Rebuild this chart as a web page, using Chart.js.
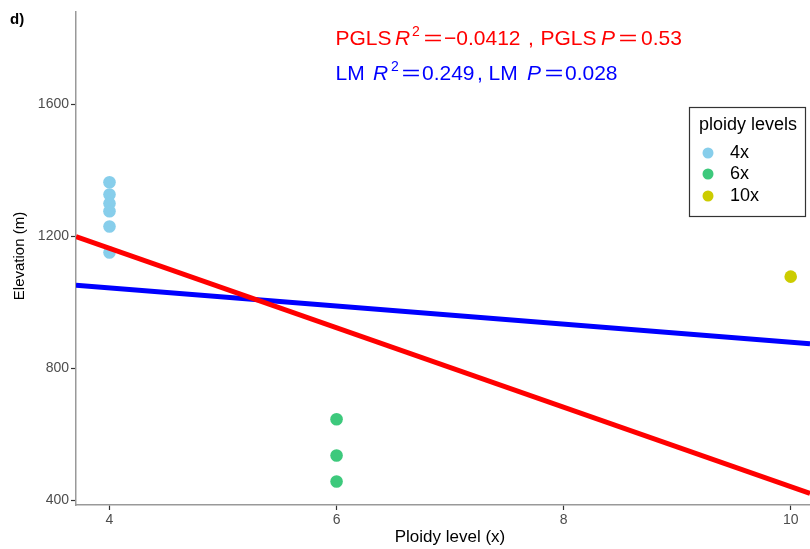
<!DOCTYPE html>
<html>
<head>
<meta charset="utf-8">
<script src="https://cdn.jsdelivr.net/npm/chart.js@4"></script>
<style>
  html, body { margin: 0; padding: 0; background: #fff; }
  canvas { display: block; }
</style>
</head>
<body>
<canvas id="chartElev" width="810" height="549"></canvas>
<script>
// ploidy groups and elevation (m)
const groups = ['4x', '6x', '10x']
const groupColors = ['#87CEEB', '#3DC97C', '#CCCC00']
const ploidy4 = [4, 4, 4, 4, 4, 4]
const elev4 = [1363, 1326, 1299, 1275, 1229, 1150]
const ploidy6 = [6, 6, 6]
const elev6 = [645, 535, 456]
const ploidy10 = [10]
const elev10 = [1077]

// fitted lines (ends at the axis limits)
const fitX = [3.705, 10.17]
const pglsY = [1198, 420]
const lmY = [1051, 874]

const xTicks = [4, 6, 8, 10]
const yTicks = [400, 800, 1200, 1600]

// text pieces: [text, style, x]  (i italic, s superscript, e wide equals)
const pglsText = [['PGLS', '', 335.5], ['R', 'i', 395], ['2', 's', 412], ['=', 'e', 423.5], ['\u22120.0412', '', 444],
    [',', '', 528], ['PGLS', '', 540.5], ['P', 'i', 601], ['=', 'e', 618.5], ['0.53', '', 641]]
const lmText = [['LM', '', 335.5], ['R', 'i', 373], ['2', 's', 391], ['=', 'e', 401.5], ['0.249', '', 422],
    [',', '', 477], ['LM', '', 488.5], ['P', 'i', 527], ['=', 'e', 544.5], ['0.028', '', 565]]

const FONT = '"Liberation Sans", Arial, sans-serif'
const tickGrey = '#4d4d4d'

function pts(xs, ys) {
    return xs.map((x, i) => ({x: x, y: ys[i]}))
}

function drawRich(ctx, parts, y, size, color) {
    ctx.fillStyle = color
    ctx.textBaseline = 'alphabetic'
    ctx.textAlign = 'left'
    for (const [t, st, x] of parts) {
        if (st === 's') {
            ctx.font = Math.round(size * 0.68) + 'px ' + FONT
            ctx.fillText(t, x, y - size * 0.45)
        } else if (st === 'e') {
            ctx.save()
            ctx.translate(x, y)
            ctx.scale(1.55, 1)
            ctx.font = size + 'px ' + FONT
            ctx.fillText(t, 0, 0)
            ctx.restore()
        } else {
            ctx.font = (st === 'i' ? 'italic ' : '') + size + 'px ' + FONT
            ctx.fillText(t, x, y)
        }
    }
}

const extras = {
    id: 'extras',
    afterDraw(chart) {
        const ctx = chart.ctx
        ctx.save()
        // panel letter
        ctx.fillStyle = '#000'
        ctx.font = 'bold 15px ' + FONT
        ctx.textBaseline = 'middle'
        ctx.fillText('d)', 10, 20)

        // stats text
        drawRich(ctx, pglsText, 45, 21, '#FF0000')
        drawRich(ctx, lmText, 80, 21, '#0000FF')

        // axis titles
        ctx.fillStyle = '#000'
        ctx.textAlign = 'center'
        ctx.textBaseline = 'middle'
        ctx.font = '17px ' + FONT
        ctx.fillText('Ploidy level (x)', 450, 537)
        ctx.save()
        ctx.translate(20, 256)
        ctx.rotate(-Math.PI / 2)
        ctx.font = '15px ' + FONT
        ctx.fillText('Elevation (m)', 0, 0)
        ctx.restore()

        // legend box
        ctx.fillStyle = '#fff'
        ctx.fillRect(689, 107, 117, 110)
        ctx.strokeStyle = '#333'
        ctx.lineWidth = 1.2
        ctx.strokeRect(689.5, 107.5, 116, 109)
        ctx.fillStyle = '#000'
        ctx.textAlign = 'left'
        ctx.font = '18px ' + FONT
        ctx.fillText('ploidy levels', 699, 125)
        const rowY = [153, 174, 196]
        groups.forEach((g, i) => {
            ctx.fillStyle = groupColors[i]
            ctx.beginPath()
            ctx.arc(708, rowY[i], 5.5, 0, Math.PI * 2)
            ctx.fill()
            ctx.fillStyle = '#000'
            ctx.font = '18px ' + FONT
            ctx.fillText(g, 730, rowY[i])
        })
        ctx.restore()
    }
}

const pointStyle = (c) => ({
    backgroundColor: c, borderColor: c, pointRadius: 6.3, pointBorderWidth: 0, showLine: false, order: 2
})

new Chart(document.getElementById('chartElev'), {
    type: 'scatter',
    data: {
        datasets: [
            Object.assign({label: groups[0], data: pts(ploidy4, elev4)}, pointStyle(groupColors[0])),
            Object.assign({label: groups[1], data: pts(ploidy6, elev6)}, pointStyle(groupColors[1])),
            Object.assign({label: groups[2], data: pts(ploidy10, elev10)}, pointStyle(groupColors[2])),
            {label: 'LM', data: pts(fitX, lmY), showLine: true, borderColor: '#0000FF', borderWidth: 5, pointRadius: 0, order: 1},
            {label: 'PGLS', data: pts(fitX, pglsY), showLine: true, borderColor: '#FF0000', borderWidth: 5, pointRadius: 0, order: 0}
        ]
    },
    options: {
        responsive: false,
        animation: false,
        layout: {autoPadding: false, padding: {top: 12, right: 0, left: 0, bottom: 0}},
        scales: {
            x: {
                type: 'linear', min: 3.705, max: 10.17,
                afterBuildTicks: (s) => { s.ticks = xTicks.map(v => ({value: v})) },
                afterFit: (s) => { s.height = 44 },
                grid: {drawOnChartArea: false, tickLength: 5, color: '#333', tickWidth: 1.2},
                border: {color: '#999', width: 1.5},
                ticks: {color: tickGrey, font: {family: FONT, size: 14}, padding: 2, maxRotation: 0,
                    callback: (v) => String(v)}
            },
            y: {
                min: 385, max: 1879,
                afterBuildTicks: (s) => { s.ticks = yTicks.map(v => ({value: v})) },
                afterFit: (s) => { s.width = 76 },
                grid: {drawOnChartArea: false, tickLength: 5, color: '#333', tickWidth: 1.2},
                border: {color: '#999', width: 1.5},
                ticks: {color: tickGrey, font: {family: FONT, size: 14}, padding: 2,
                    callback: (v) => String(v)}
            }
        },
        plugins: {
            legend: {display: false},
            tooltip: {enabled: false}
        }
    },
    plugins: [extras]
});
</script>
</body>
</html>
